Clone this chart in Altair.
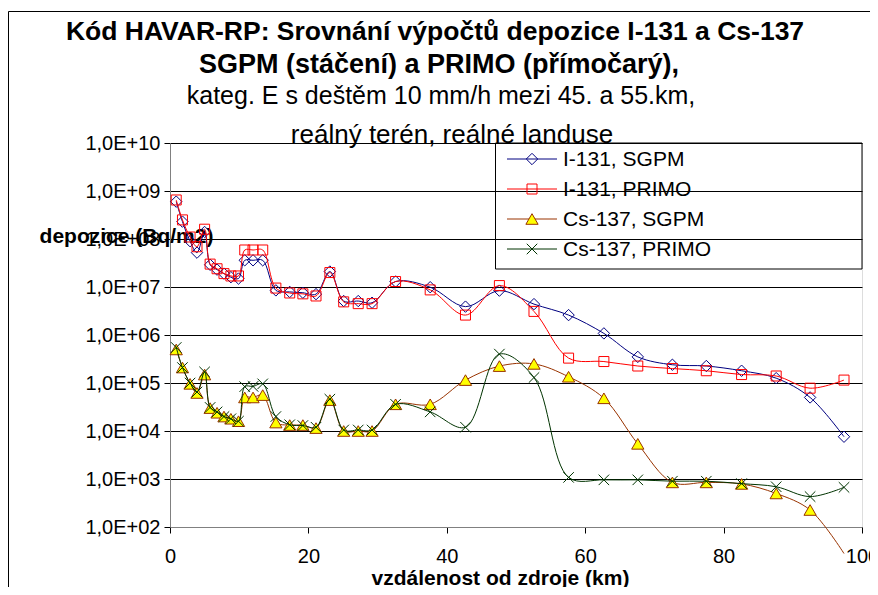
import altair as alt
import pandas as pd

# ---------------- data ----------------
km = [0.9, 1.8, 2.9, 3.9, 5.0, 5.8, 6.8, 7.8, 8.8, 9.9, 10.8, 12.0, 13.4, 15.3,
      17.3, 19.2, 21.1, 23.1, 25.1, 27.2, 29.2, 32.6, 37.6, 42.7, 47.6, 52.6,
      57.6, 62.7, 67.6, 72.6, 77.5, 82.6, 87.6, 92.5, 97.4]

i131_sgpm = [6.0e8, 2.3e8, 9.0e7, 5.2e7, 1.4e8, 2.9e7, 2.3e7, 1.9e7, 1.6e7, 1.5e7,
             3.6e7, 3.6e7, 3.6e7, 8.5e6, 7.9e6, 7.6e6, 7.1e6, 2.1e7, 5.1e6, 5.1e6,
             4.7e6, 1.3e7, 9.9e6, 3.9e6, 8.4e6, 4.4e6, 2.6e6, 1.08e6, 3.5e5, 2.4e5,
             2.26e5, 1.8e5, 1.26e5, 5.0e4, 7.6e3]

i131_primo = [6.5e8, 2.5e8, 1.1e8, 6.9e7, 1.6e8, 3.0e7, 2.4e7, 1.9e7, 1.7e7, 1.7e7,
              5.9e7, 5.9e7, 5.9e7, 9.5e6, 7.5e6, 7.2e6, 6.5e6, 2.0e7, 4.9e6, 4.5e6,
              4.5e6, 1.3e7, 8.7e6, 2.6e6, 1.07e7, 3.1e6, 3.3e5, 2.8e5, 2.26e5, 2.0e5,
              1.8e5, 1.5e5, 1.4e5, 7.8e4, 1.15e5]

cs137_sgpm = [5.0e5, 2.1e5, 9.6e4, 6.2e4, 1.5e5, 3.0e4, 2.4e4, 2.0e4, 1.8e4, 1.6e4,
              5.0e4, 5.0e4, 5.6e4, 1.5e4, 1.33e4, 1.33e4, 1.15e4, 4.4e4, 1.0e4, 1.0e4,
              1.0e4, 3.6e4, 3.6e4, 1.15e5, 2.25e5, 2.5e5, 1.35e5, 4.8e4, 5.4e3, 8.5e2,
              8.5e2, 7.9e2, 5.0e2, 2.26e2, 2.8e1]

cs137_primo = [5.5e5, 2.1e5, 1.0e5, 6.5e4, 1.7e5, 3.1e4, 2.5e4, 2.0e4, 1.8e4, 1.6e4,
               8.4e4, 8.5e4, 9.6e4, 2.0e4, 1.35e4, 1.3e4, 1.2e4, 4.6e4, 1.05e4, 1.05e4,
               1.05e4, 3.6e4, 2.5e4, 1.2e4, 4.0e5, 1.3e5, 1.08e3, 9.6e2, 9.6e2, 9.0e2,
               9.0e2, 8.0e2, 6.9e2, 4.3e2, 6.7e2]

series_names = ["I-131, SGPM", "I-131, PRIMO", "Cs-137, SGPM", "Cs-137, PRIMO"]
series_values = [i131_sgpm, i131_primo, cs137_sgpm, cs137_primo]

title_lines = ["Kód HAVAR-RP: Srovnání výpočtů depozice I-131 a Cs-137",
               "SGPM (stáčení) a PRIMO (přímočarý),",
               "kateg. E s deštěm 10 mm/h mezi 45. a 55.km,",
               "reálný terén, reálné landuse"]
y_title = "depozice (Bq/m2)"
x_title = "vzdálenost od zdroje (km)"
y_ticks = [1e2, 1e3, 1e4, 1e5, 1e6, 1e7, 1e8, 1e9, 1e10]
x_ticks = [0, 20, 40, 60, 80, 100]

# ---------------- styles ----------------
line_colors = ["#000080", "#FF0000", "#993300", "#003300"]
marker_shapes = ["diamond", "square", "triangle-up", "M-1,-1L1,1M-1,1L1,-1"]
marker_filled = [False, False, True, False]
marker_fill = [None, None, "#FFFF00", None]
marker_sizes = [130, 100, 150, 110]

W, H = 692, 384
FONT = "Liberation Sans"

rows = []
for name, vals in zip(series_names, series_values):
    for k, v in zip(km, vals):
        rows.append({"series": name, "km": k, "value": v})
df = pd.DataFrame(rows)

x_scale = alt.Scale(domain=[0, 100], nice=False, zero=False)
y_scale = alt.Scale(type="log", domain=[1e2, 1e10], nice=False)

X = alt.X("km:Q", scale=x_scale,
          axis=alt.Axis(values=x_ticks, grid=False, title=x_title,
                        titleX=330, titleY=51, titleAlign="center",
                        titleBaseline="middle", titleFont=FONT, titleFontSize=21,
                        titleFontWeight="bold", titleColor="black",
                        labelFont=FONT, labelFontSize=20, labelColor="black",
                        labelPadding=13, tickSize=6, tickColor="#000000",
                        domainColor="#808080", labelFlush=False))
Y = alt.Y("value:Q", scale=y_scale,
          axis=alt.Axis(values=y_ticks, grid=True, gridColor="#000000", gridWidth=1,
                        gridOpacity=1,
                        labelExpr="'1,0E+' + (datum.value >= 1e10 ? '' : '0') + round(log(datum.value)/LN10)",
                        title=y_title, titleAngle=0, titleX=-44, titleY=93,
                        titleAlign="center", titleBaseline="middle",
                        titleFont=FONT, titleFontSize=21, titleFontWeight="bold",
                        titleColor="black",
                        labelFont=FONT, labelFontSize=20, labelColor="black",
                        labelPadding=4, tickSize=6, tickColor="#000000",
                        domainColor="#808080", labelFlush=False))

layers = []

# outer chart frame
frame = alt.Chart(pd.DataFrame({"a": [0]})).mark_rect(
    fillOpacity=0, stroke="#000000", strokeWidth=1).encode(
    x=alt.value(-161.5), x2=alt.value(900), y=alt.value(-131.5), y2=alt.value(700))
layers.append(frame)

# title lines
title_y = [-111, -78, -47, -8]
title_bold = ["bold", "bold", "normal", "normal"]
title_x = [265, 269, 271, 282]
title_size = [26.5, 27, 25, 26]
for t, ty, tw, tx, ts in zip(title_lines, title_y, title_bold, title_x, title_size):
    layers.append(alt.Chart(pd.DataFrame({"t": [t]})).mark_text(
        font=FONT, fontSize=ts, fontWeight=tw, color="black",
        align="center", baseline="middle").encode(
        x=alt.value(tx), y=alt.value(ty), text="t:N"))

# series
for i, name in enumerate(series_names):
    sub = df[df.series == name]
    base = alt.Chart(sub)
    layers.append(base.mark_line(color=line_colors[i], strokeWidth=1,
                                 interpolate="catmull-rom").encode(x=X, y=Y))
    pkw = dict(shape=marker_shapes[i], size=marker_sizes[i], opacity=1,
               strokeWidth=1, filled=marker_filled[i])
    if marker_filled[i]:
        pkw.update(fill=marker_fill[i], stroke=line_colors[i])
    else:
        pkw.update(color=line_colors[i])
    layers.append(base.transform_filter("datum.value >= 100").mark_point(**pkw).encode(x=X, y=Y))

# legend box
layers.append(alt.Chart(pd.DataFrame({"a": [0]})).mark_rect(
    fillOpacity=0, stroke="#000000", strokeWidth=1).encode(
    x=alt.value(325.5), x2=alt.value(692), y=alt.value(0), y2=alt.value(126)))

for i, name in enumerate(series_names):
    ly = 16 + 30 * i
    ld = alt.Chart(pd.DataFrame({"series": [name]}))
    layers.append(ld.mark_rule(color=line_colors[i], strokeWidth=1).encode(
        x=alt.value(337), x2=alt.value(387), y=alt.value(ly)))
    pkw = dict(shape=marker_shapes[i], size=marker_sizes[i], opacity=1,
               strokeWidth=1, filled=marker_filled[i])
    if marker_filled[i]:
        pkw.update(fill=marker_fill[i], stroke=line_colors[i])
    else:
        pkw.update(color=line_colors[i])
    layers.append(ld.mark_point(**pkw).encode(x=alt.value(362), y=alt.value(ly)))
    layers.append(ld.mark_text(font=FONT, fontSize=21, color="black", align="left",
                               baseline="middle").encode(
        x=alt.value(393), y=alt.value(ly + 1), text="series:N"))

chart = alt.layer(*layers).properties(
    width=W, height=H,
    autosize=alt.AutoSizeParams(type="none"),
    padding={"left": 162, "top": 135, "right": 8, "bottom": 60},
).configure_view(fill="#C0C0C0", stroke="#808080", strokeWidth=1
).configure(background="white")

chart.save("out.html", embed_options={"renderer": "svg", "actions": False})
